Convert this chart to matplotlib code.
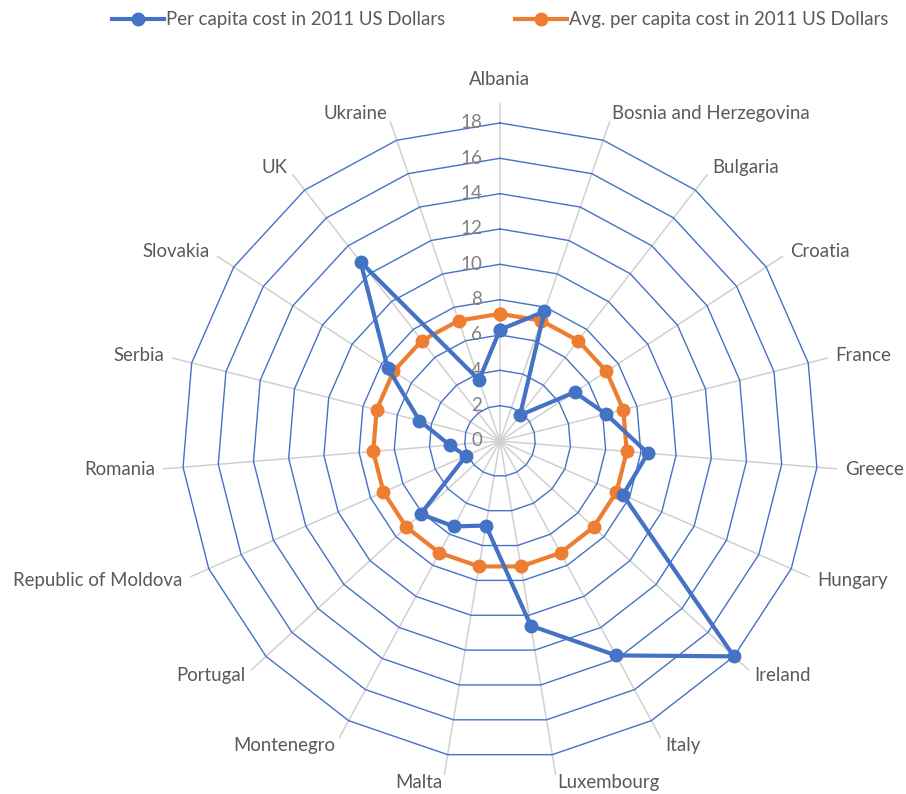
import matplotlib.pyplot as plt
import numpy as np

plt.rcParams['font.family'] = ['Lato', 'DejaVu Sans']

# categories going clockwise from the top
countries = ['Albania', 'Bosnia and Herzegovina', 'Bulgaria', 'Croatia', 'France',
             'Greece', 'Hungary', 'Ireland', 'Italy', 'Luxembourg', 'Malta',
             'Montenegro', 'Portugal', 'Republic of Moldova', 'Romania', 'Serbia',
             'Slovakia', 'UK', 'Ukraine']
# per capita cost values
cost = [6.3, 7.75, 1.85, 5.05, 6.2, 8.4, 7.6, 18.0, 13.8, 10.6, 4.85,
        5.5, 6.1, 2.1, 2.85, 4.7, 7.6, 12.85, 3.65]
# average is the same for every country
avg = [7.2] * len(countries)
ticks = [0, 2, 4, 6, 8, 10, 12, 14, 16, 18]

blue = '#4472C4'
orange = '#ED7D31'

n = len(countries)
theta = np.arange(n) * 2 * np.pi / n
theta_c = np.append(theta, theta[0])

fig = plt.figure(figsize=(9.06, 7.94), dpi=100)
ax = fig.add_axes([0.1716, 0.0107, 0.7605, 0.8678], projection='polar')
ax.set_theta_zero_location('N')
ax.set_theta_direction(-1)
ax.set_ylim(0, 19.5)
ax.grid(False)
ax.spines['polar'].set_visible(False)
ax.set_xticks([])
ax.set_yticks([])
ax.patch.set_alpha(0)

# spokes
for t in theta:
    ax.plot([t, t], [0, 19.1], color='#D0D0D0', lw=1.1, zorder=1)

# polygon rings
for r in ticks[1:]:
    ax.plot(theta_c, [r] * (n + 1), color=blue, lw=1.0, zorder=2)

# radial tick labels
for r in ticks:
    ax.annotate(str(r), xy=(0, r), xytext=(-13, 0), textcoords='offset points',
                ha='right', va='center', fontsize=13.5, color='#808080', zorder=3)

# category labels
for t, name in zip(theta, countries):
    s = np.sin(t)
    if abs(s) < 0.05:
        ax.text(t, 20.0, name, ha='center', va='bottom' if np.cos(t) > 0 else 'top',
                fontsize=13.4, color='#595959')
    else:
        ax.text(t, 19.6, name, ha='left' if s > 0 else 'right', va='center',
                fontsize=13.4, color='#595959')

ax.plot(theta_c, cost + cost[:1], color=blue, lw=3, marker='o', ms=9,
        label='Per capita cost in 2011 US Dollars', zorder=5)
ax.plot(theta_c, avg + avg[:1], color=orange, lw=3, marker='o', ms=9,
        label='Avg. per capita cost in 2011 US Dollars', zorder=4)

leg = fig.legend(loc='upper center', bbox_to_anchor=(0.552, 1.007), ncol=2, frameon=False,
                 fontsize=13.4, handlelength=2.8, handletextpad=0.1, columnspacing=3.8)
for txt in leg.get_texts():
    txt.set_color('#595959')

fig.savefig('out.png', dpi=100)
